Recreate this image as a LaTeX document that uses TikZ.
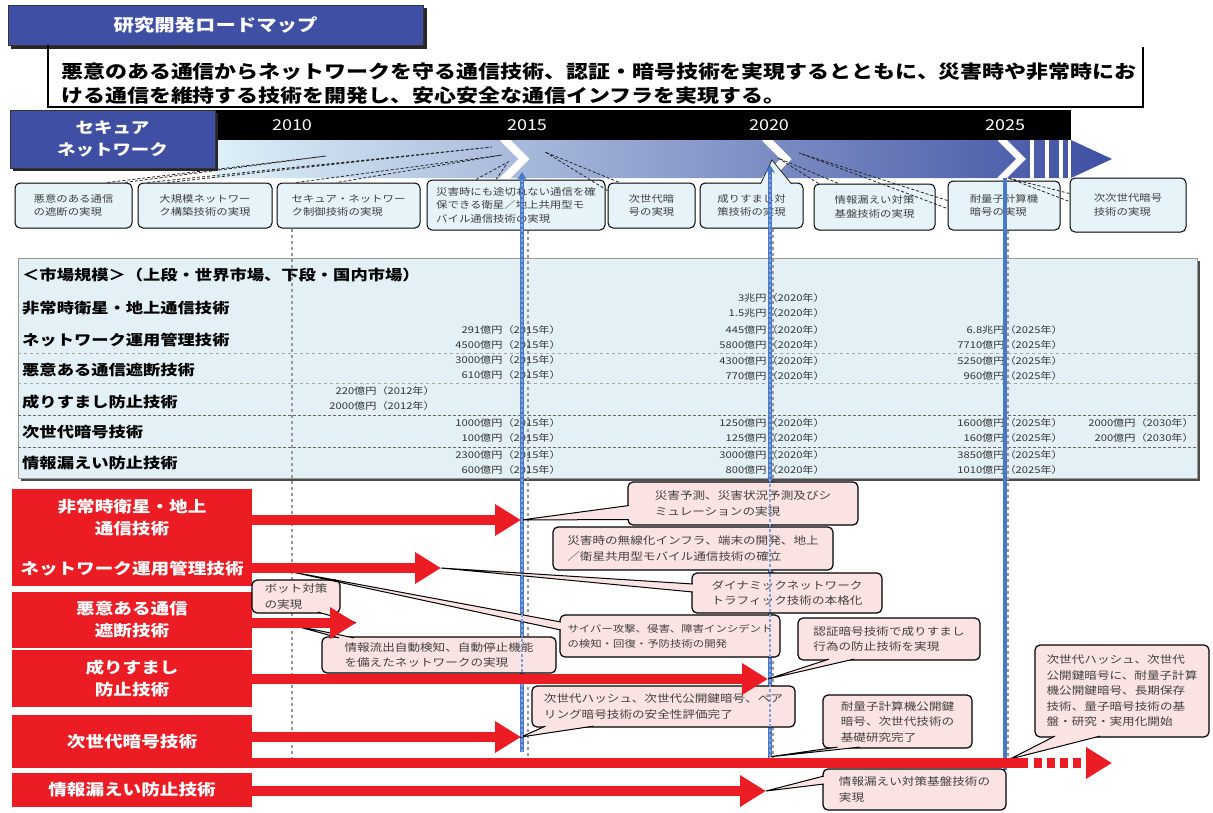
\documentclass[tikz,border=0pt]{standalone}
\usepackage{fontspec}
\setmainfont{Noto Sans CJK JP}[FakeStretch=1.2]
\usetikzlibrary{arrows.meta}
\definecolor{roadblue}{HTML}{3F4FA3}
\definecolor{bandlight}{HTML}{DDF0F8}
\definecolor{bandmid}{HTML}{A9C3E4}
\definecolor{topfill}{HTML}{E6F3F8}
\definecolor{tablefill}{HTML}{E3F1F6}
\definecolor{techred}{HTML}{EC1C24}
\definecolor{pinkfill}{HTML}{FCE3E3}
\definecolor{yearblue}{HTML}{4A78C8}

\begin{document}
\begin{tikzpicture}[x=1pt,y=-1pt,
	titlebox/.style={fill=roadblue,draw=black!80,line width=1pt,text=white,align=center,font=\fontsize{17}{20}\selectfont\bfseries},
	year/.style={text=white,font=\fontsize{15}{18}\selectfont},
	topbox/.style={draw,line width=1pt,rounded corners=5pt,fill=topfill,text=black!75,align=left,inner sep=1pt,font=\fontsize{9.5}{13.5}\selectfont},
	toptip/.style={draw=black!85,densely dashed,line width=0.8pt},
	rowlabel/.style={anchor=west,inner sep=0pt,font=\fontsize{14.4}{17}\selectfont\bfseries},
	val/.style={anchor=east,align=right,inner sep=0pt,text=black!80,font=\fontsize{9.3}{15}\selectfont},
	gridline/.style={black!40,dashed,line width=1.3pt},
	yearline/.style={yearblue,line width=3.5pt},
	redbox/.style={fill=techred,text=white,align=center,inner sep=0pt,minimum width=240pt,font=\fontsize{15.5}{22}\selectfont\bfseries},
	redarrow/.style={techred,line width=10pt,-{Triangle[length=26pt,width=30pt]}},
	pinkbox/.style={draw,line width=1.2pt,rounded corners=5pt,fill=pinkfill,text=black!75,align=left,inner sep=1pt,font=\fontsize{10.5}{15.5}\selectfont},
	pinktip/.style={draw,line width=1pt,fill=pinkfill}
]
	\fill[white] (0,0) rectangle (1213,812);
	\useasboundingbox (0,0) rectangle (1213,812);

	\fill[black!85] (11,8) rectangle (427,49);
	\node[titlebox,minimum width=415pt,minimum height=40pt] (title) at (215.5,25) {研究開発ロードマップ};
	\draw[line width=2pt] (48,45) -- (48,107) -- (1143,107) -- (1143,47);
	\node[anchor=west,align=left,inner sep=0pt,font=\fontsize{18.3}{24}\selectfont\bfseries] (goal) at (61,84) {悪意のある通信からネットワークを守る通信技術、認証・暗号技術を実現するとともに、災害時や非常時にお\\ける通信を維持する技術を開発し、安心安全な通信インフラを実現する。};

	\fill[black] (215,110) rectangle (1071,140);
	\shade[left color=bandlight,middle color=bandmid,right color=roadblue] (215,140) -- (1071,140) -- (1112,159) -- (1071,178) -- (215,178) -- cycle;
	\begin{scope}
		\clip (215,140) rectangle (1120,178);
		\draw[white,line width=8pt] (503,138) -- (524,159) -- (503,180);
		\draw[white,line width=8pt] (765,138) -- (786,159) -- (765,180);
		\draw[white,line width=7pt] (1000,138) -- (1021,159) -- (1000,180);
		\fill[white] (1030,140) rectangle (1034,178);
		\fill[white] (1045,140) rectangle (1049,178);
		\fill[white] (1059,140) rectangle (1063,178);
		\fill[white] (1068,140) rectangle (1071,178);
	\end{scope}
	\node[year] (y2010) at (292,125) {2010};
	\node[year] (y2015) at (527,125) {2015};
	\node[year] (y2020) at (769,125) {2020};
	\node[year] (y2025) at (1005,125) {2025};
	\fill[black!85] (13,113) rectangle (218,171);
	\node[titlebox,minimum width=205pt,minimum height=58pt,font=\fontsize{15.4}{22}\selectfont\bfseries] (secure) at (112.5,139) {セキュア\\ネットワーク};

	\coordinate (tip1) at (326,156);
	\coordinate (tip2) at (492,147);
	\coordinate (tip3) at (502,155);
	\coordinate (tip4) at (508,162);
	\coordinate (tip5) at (545,152);
	\coordinate (tip6) at (772,160);
	\coordinate (tip7) at (778,158);
	\coordinate (tip8) at (799,153);
	\coordinate (tip9) at (1008,178);
	\node[topbox,minimum width=117pt,minimum height=45pt] (b1) at (73.5,205.5) {悪意のある通信\\の遮断の実現};
	\node[topbox,minimum width=134pt,minimum height=45pt] (b2) at (205,205.5) {大規模ネットワー\\ク構築技術の実現};
	\node[topbox,minimum width=143pt,minimum height=45pt] (b3) at (348.5,205.5) {セキュア・ネットワー\\ク制御技術の実現};
	\node[topbox,minimum width=178pt,minimum height=50pt] (b4) at (516,205) {災害時にも途切れない通信を確\\保できる衛星／地上共用型モ\\バイル通信技術の実現};
	\node[topbox,minimum width=87pt,minimum height=45pt] (b5) at (651.5,205.5) {次世代暗\\号の実現};
	\node[topbox,minimum width=103pt,minimum height=45pt] (b6) at (751.5,205.5) {成りすまし対\\策技術の実現};
	\node[topbox,minimum width=121pt,minimum height=46pt] (b7) at (874.5,207) {情報漏えい対策\\基盤技術の実現};
	\node[topbox,minimum width=112pt,minimum height=49pt] (b8) at (1004,205.5) {耐量子計算機\\暗号の実現};
	\node[topbox,minimum width=116pt,minimum height=54pt] (b9) at (1128,205) {次次世代暗号\\技術の実現};
	\draw[toptip] ([xshift=-25pt]b1.north east) -- (tip1) -- ([xshift=-8pt]b1.north east);
	\draw[toptip] ([xshift=10pt]b2.north west) -- (tip2) -- ([xshift=30pt]b2.north west);
	\draw[toptip] ([xshift=20pt]b3.north west) -- (tip3) -- ([xshift=60pt]b3.north west);
	\draw[toptip] ([xshift=-40pt]b4.north) -- (tip4) -- ([xshift=-20pt]b4.north);
	\draw[toptip] ([yshift=-8pt]b5.north west) -- (tip5) -- ([xshift=12pt]b5.north west);
	\filldraw[fill=topfill,draw=black!85,line width=0.8pt] ([xshift=9pt,yshift=-1.5pt]b6.north) -- (tip6) -- ([xshift=40pt,yshift=-1.5pt]b6.north);
	\draw[toptip] ([xshift=5pt]b7.north west) -- (tip7) -- ([xshift=25pt]b7.north west);
	\draw[toptip] ([yshift=-20pt]b8.north west) -- (tip8) -- ([yshift=-28pt]b8.north west);
	\draw[toptip] ([yshift=-16pt]b9.north west) -- (tip9) -- ([yshift=-24pt]b9.north west);

	\fill[black!70] (21,261) rectangle (1200,481);
	\draw[black!40,fill=tablefill,line width=1pt] (18,258) rectangle (1197,478);
	\draw[black!35,dashed] (18,353) -- (1197,353);
	\draw[black!35,dashed] (18,383) -- (1197,383);
	\draw[black!60,densely dashed,line width=1pt] (18,415) -- (1197,415);
	\draw[black!60,densely dashed,line width=1pt] (18,447) -- (1197,447);
	\node[rowlabel] (mtitle) at (22,275) {＜市場規模＞（上段・世界市場、下段・国内市場）};
	\node[rowlabel] (row1) at (22,308) {非常時衛星・地上通信技術};
	\node[rowlabel] (row2) at (22,340) {ネットワーク運用管理技術};
	\node[rowlabel] (row3) at (22,370) {悪意ある通信遮断技術};
	\node[rowlabel] (row4) at (22,402) {成りすまし防止技術};
	\node[rowlabel] (row5) at (22,432) {次世代暗号技術};
	\node[rowlabel] (row6) at (22,463) {情報漏えい防止技術};

	\node[redbox,minimum height=97pt] (r1) at (132,537.5) {非常時衛星・地上\\通信技術\\[18pt]ネットワーク運用管理技術};
	\node[redbox,minimum height=56pt] (r2) at (132,620) {悪意ある通信\\遮断技術};
	\node[redbox,minimum height=57pt] (r3) at (132,678.5) {成りすまし\\防止技術};
	\node[redbox,minimum height=53pt] (r4) at (132,741.5) {次世代暗号技術};
	\node[redbox,minimum height=34pt] (r5) at (132,790) {情報漏えい防止技術};

	\draw[gridline] (y2010 |- b3.south) -- (y2010 |- r4.south);
	\draw[gridline] ([xshift=1pt]y2015 |- b4.south) -- ([xshift=1pt]y2015 |- r4.south);
	\draw[gridline] ([xshift=4pt]y2020 |- b6.south) -- ([xshift=4pt]y2020 |- r4.south);
	\draw[gridline] ([xshift=3pt]y2025 |- b8.south) -- ([xshift=3pt]y2025 |- r4.south);

	\node[val] (v1) at (825,305.5) {3兆円（2020年）\\1.5兆円（2020年）};
	\node[val] (v2a) at (561,337.5) {291億円（2015年）\\4500億円（2015年）};
	\node[val] (v2b) at (825,337.5) {445億円（2020年）\\5800億円（2020年）};
	\node[val] (v2c) at (1063,337.5) {6.8兆円（2025年）\\7710億円（2025年）};
	\node[val] (v3a) at (561,367) {3000億円（2015年）\\610億円（2015年）};
	\node[val] (v3b) at (825,368) {4300億円（2020年）\\770億円（2020年）};
	\node[val] (v3c) at (1063,368) {5250億円（2025年）\\960億円（2025年）};
	\node[val] (v4) at (435,398.5) {220億円（2012年）\\2000億円（2012年）};
	\node[val] (v5a) at (561,430.5) {1000億円（2015年）\\100億円（2015年）};
	\node[val] (v5b) at (825,430.5) {1250億円（2020年）\\125億円（2020年）};
	\node[val] (v5c) at (1063,430.5) {1600億円（2025年）\\160億円（2025年）};
	\node[val] (v5d) at (1194,430.5) {2000億円（2030年）\\200億円（2030年）};
	\node[val] (v6a) at (561,462.5) {2300億円（2015年）\\600億円（2015年）};
	\node[val] (v6b) at (825,462.5) {3000億円（2020年）\\800億円（2020年）};
	\node[val] (v6c) at (1063,462.5) {3850億円（2025年）\\1010億円（2025年）};

	\coordinate (tA1) at (521,520);
	\coordinate (tA2) at (441,568);
	\coordinate (tA3) at (356,623);
	\coordinate (tA4) at (768,679);
	\coordinate (tA5) at (521,737);
	\coordinate (tA6) at (1028,763);
	\coordinate (tA6end) at (1112,763);
	\coordinate (tA7) at (766,791);
	\coordinate (g2010a) at (292,572);
	\coordinate (g2010b) at (292,625);
	\coordinate (c2020) at (768,757);
	\coordinate (c2025) at (1010,759);

	\draw[yearline,-{Stealth[length=8pt,width=10pt]}] (522,752) -- (522,172);
	\draw[yearline,-{Stealth[length=8pt,width=10pt]}] (770,757) -- (770,165);
	\draw[yearline] (1005,770) -- (1005,178);

	\node[pinkbox,minimum width=230pt,minimum height=43pt] (p1) at (743,503.5) {災害予測、災害状況予測及びシ\\ミュレーションの実現};
	\node[pinkbox,minimum width=280pt,minimum height=43pt] (p2) at (693,548.5) {災害時の無線化インフラ、端末の開発、地上\\／衛星共用型モバイル通信技術の確立};
	\node[pinkbox,minimum width=190pt,minimum height=40pt] (p3) at (787,593) {ダイナミックネットワーク\\トラフィック技術の本格化};
	\node[pinkbox,minimum width=88pt,minimum height=33pt] (p4) at (296,596.5) {ボット対策\\の実現};
	\node[pinkbox,minimum width=220pt,minimum height=42pt,font=\fontsize{9.5}{15}\selectfont] (p5) at (670,636) {サイバー攻撃、侵害、障害インシデント\\の検知・回復・予防技術の開発};
	\node[pinkbox,minimum width=234pt,minimum height=36pt] (p6) at (439,655) {情報流出自動検知、自動停止機能\\を備えたネットワークの実現};
	\node[pinkbox,minimum width=182pt,minimum height=42pt] (p7) at (889,639) {認証暗号技術で成りすまし\\行為の防止技術を実現};
	\node[pinkbox,minimum width=263pt,minimum height=41pt] (p8) at (663.5,706.5) {次世代ハッシュ、次世代公開鍵暗号、ペア\\リング暗号技術の安全性評価完了};
	\node[pinkbox,minimum width=149pt,minimum height=53pt] (p9) at (897.5,721.5) {耐量子計算機公開鍵\\暗号、次世代技術の\\基礎研究完了};
	\node[pinkbox,minimum width=174pt,minimum height=92pt] (p10) at (1122,691) {次世代ハッシュ、次世代\\公開鍵暗号に、耐量子計算\\機公開鍵暗号、長期保存\\技術、量子暗号技術の基\\盤・研究・実用化開始};
	\node[pinkbox,minimum width=183pt,minimum height=41pt] (p11) at (914.5,789.5) {情報漏えい対策基盤技術の\\実現};
	\filldraw[pinktip] ([xshift=1.5pt,yshift=-2pt]p1.west) -- (tA1) -- ([xshift=1.5pt,yshift=-16pt]p1.west);
	\filldraw[pinktip] ([xshift=1.5pt,yshift=9pt]p3.west) -- (tA2) -- ([xshift=1.5pt,yshift=1pt]p3.west);
	\filldraw[pinktip] ([xshift=22pt,yshift=1.5pt]p4.south) -- (tA3) -- ([xshift=36pt,yshift=1.5pt]p4.south);
	\filldraw[pinktip] ([xshift=1.5pt,yshift=14pt]p5.west) -- (g2010a) -- ([xshift=1.5pt,yshift=6pt]p5.west);
	\filldraw[pinktip] ([xshift=-100pt,yshift=-1.5pt]p6.north) -- (g2010b) -- ([xshift=-85pt,yshift=-1.5pt]p6.north);
	\filldraw[pinktip] ([xshift=-60pt,yshift=1.5pt]p7.south) -- (tA4) -- ([xshift=-35pt,yshift=1.5pt]p7.south);
	\filldraw[pinktip] ([xshift=-118pt,yshift=1.5pt]p8.south) -- (tA5) -- ([xshift=-70pt,yshift=1.5pt]p8.south);
	\filldraw[pinktip] ([xshift=-60pt,yshift=1.5pt]p9.south) -- (c2020) -- ([xshift=-38pt,yshift=1.5pt]p9.south);
	\filldraw[pinktip] ([xshift=-67pt,yshift=1.5pt]p10.south) -- (c2025) -- ([xshift=-22pt,yshift=1.5pt]p10.south);
	\filldraw[pinktip] ([xshift=1.5pt,yshift=13.5pt]p11.west) -- (tA7) -- ([xshift=1.5pt,yshift=5.5pt]p11.west);
	\draw[yearblue!70,densely dashed,line width=1.2pt] (522,752) -- (522,180);
	\draw[yearblue!70,densely dashed,line width=1.2pt] (770,757) -- (770,175);

	\draw[redarrow] (r1.east |- tA1) -- (tA1);
	\draw[redarrow] (r1.east |- tA2) -- (tA2);
	\draw[redarrow] (r2.east |- tA3) -- (tA3);
	\draw[redarrow] (r3.east |- tA4) -- (tA4);
	\draw[redarrow] (r4.east |- tA5) -- (tA5);
	\draw[techred,line width=10pt] (r4.east |- tA6) -- (tA6);
	\draw[redarrow,dash pattern=on 8pt off 5pt] ([xshift=6pt]tA6) -- (tA6end);
	\draw[redarrow] (r5.east |- tA7) -- (tA7);
\end{tikzpicture}
\end{document}
